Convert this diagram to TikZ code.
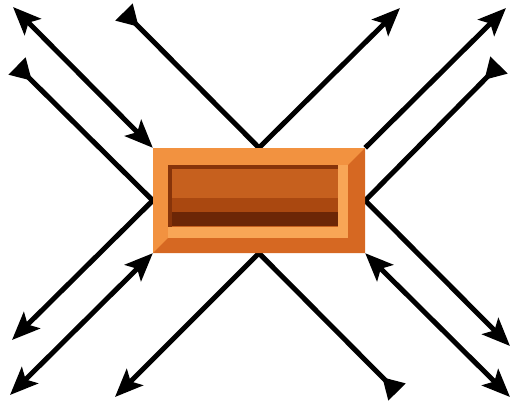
\documentclass[tikz,border=0pt]{standalone}
\definecolor{BrickLight}{RGB}{242,146,64}
\definecolor{BrickMid}{RGB}{214,104,34}
\definecolor{BrickGlow}{RGB}{248,166,86}
\definecolor{BrickEdge}{RGB}{135,52,10}
\definecolor{BrickPanel}{RGB}{198,96,30}
\definecolor{BrickDeep}{RGB}{170,72,16}
\definecolor{BrickDark}{RGB}{108,38,6}
\usepackage{tikz}
\usetikzlibrary{arrows.meta}
\pgfdeclarelayer{wires}
\pgfsetlayers{wires,main}

\begin{document}
\begin{tikzpicture}[
        x=1pt, y=-1pt,
        brick/.style={minimum width=212pt, minimum height=105pt, inner sep=0pt,
                      fill=BrickLight},
        outtip/.tip={Stealth[length=28pt, width=23pt, inset=6pt]},
        intip/.tip={Triangle[reversed, length=21pt, width=23pt]},
        ray/.style={line width=5pt, line join=miter, black},
        oneway/.style={ray, -outtip},
        twoway/.style={ray, outtip-outtip},
        bounce/.style={ray, intip-outtip}
      ]
        \useasboundingbox (0,0) rectangle (513,405);
        % the brick in the middle
        \node[brick] (box) at (259,200.5) {};
        % free ends of the rays
        \coordinate (cTL) at (13,7);
        \coordinate (cTR) at (506,8);
        \coordinate (cBL) at (10,395);
        \coordinate (cBR) at (510,397);
        \coordinate (tIn)  at (124,12);
        \coordinate (tOut) at (400,8);
        \coordinate (lIn)  at (17,66);
        \coordinate (lOut) at (12,340);
        \coordinate (rIn)  at (499,65);
        \coordinate (rOut) at (510,346);
        \coordinate (bIn)  at (397,392);
        \coordinate (bOut) at (115,397);
        \begin{pgfonlayer}{wires}
          % corner rays
          \draw[twoway] (cTL) -- (box.north west);
          \draw[oneway] (box.north east) -- (cTR);
          \draw[twoway] (box.south west) -- (cBL);
          \draw[twoway] (box.south east) -- (cBR);
          % rays bouncing off the sides
          \draw[bounce] (tIn) -- (box.north) -- (tOut);
          \draw[bounce] (lIn) -- (box.west) -- (lOut);
          \draw[bounce] (rIn) -- (box.east) -- (rOut);
          \draw[bounce] (bIn) -- (box.south) -- (bOut);
        \end{pgfonlayer}
        % bevel and recessed panel
        \fill[BrickMid] (box.north east) -- (box.south east) -- (box.south west)
          -- (168,238) -- (348,238) -- (348,165) -- cycle;
        \fill[BrickGlow] (168,165) rectangle (348,238);
        \fill[BrickPanel] (168,165) rectangle (338,227);
        \fill[BrickEdge] (168,165) rectangle (338,169);
        \fill[BrickEdge] (168,165) rectangle (172,227);
        \fill[BrickDeep] (172,198) rectangle (338,212);
        \fill[BrickDark] (172,212) rectangle (338,226);
      \end{tikzpicture}
\end{document}
